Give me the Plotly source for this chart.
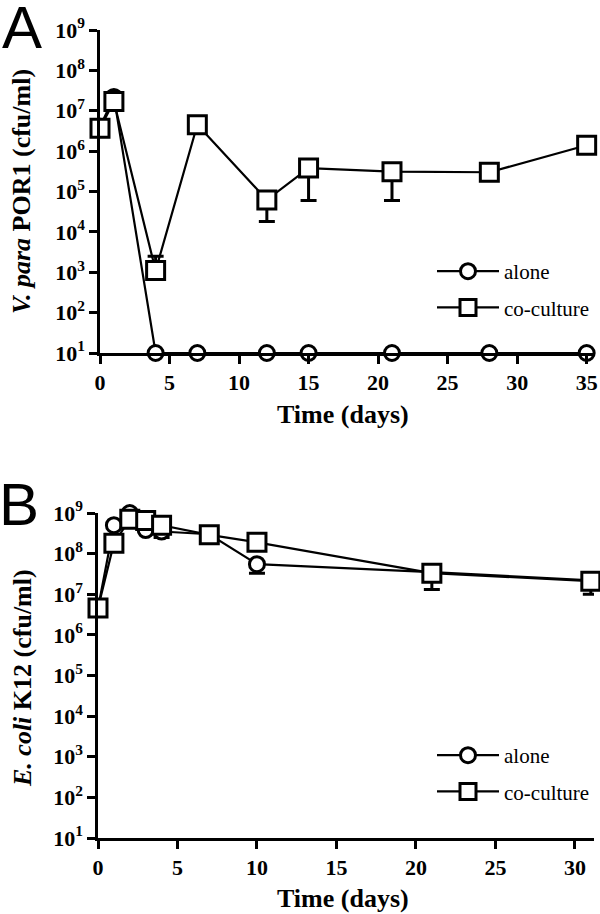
import plotly.graph_objects as go

# ---------------- data ----------------
A_days = [0, 1, 4, 7, 12, 15, 21, 28, 35]
A_alone = [4.0e6, 2.2e7, 10, 10, 10, 10, 10, 10, 10]
A_cocult = [3.7e6, 1.7e7, 1.1e3, 4.5e6, 6.2e4, 3.8e5, 3.1e5, 3.0e5, 1.4e6]
A_cocult_err_up = [0, 0, 1.4e3, 0, 0, 0, 0, 0, 0]
A_cocult_err_down = [0, 0, 0, 1.5e6, 4.4e4, 3.2e5, 2.5e5, 0, 0]

B_days = [0, 1, 2, 3, 4, 7, 10, 21, 31]
B_alone = [4.5e6, 5.0e8, 1.0e9, 3.8e8, 3.5e8, 3.0e8, 5.5e7, 3.5e7, 2.2e7]
B_alone_err_down = [0, 0, 0, 0, 1.0e8, 0, 2.2e7, 0, 0]
B_cocult = [4.6e6, 1.8e8, 7.0e8, 6.5e8, 5.0e8, 2.9e8, 1.9e8, 3.3e7, 2.1e7]
B_cocult_err_down = [0, 0, 0, 0, 0, 0, 0, 2.0e7, 1.1e7]

A_xticks = [0, 5, 10, 15, 20, 25, 30, 35]
B_xticks = [0, 5, 10, 15, 20, 25, 30]
y_exponents = [1, 2, 3, 4, 5, 6, 7, 8, 9]
y_tickvals = [10 ** e for e in y_exponents]
y_ticktext = ["10<sup>%d</sup>" % e for e in y_exponents]

series_names = ["alone", "co-culture"]

# ---------------- styling ----------------
W, H = 600, 914
SERIF = "Liberation Serif"
LINE_W = 2.2
MK_LINE = 3

def px_x(p):
    return p / W

def px_y(p):
    return 1 - p / H

circle_marker = dict(symbol="circle", size=15, color="white",
                     line=dict(color="black", width=MK_LINE))
square_marker = dict(symbol="square", size=18, color="white",
                     line=dict(color="black", width=MK_LINE))

fig = go.Figure()

def err(up, down):
    return dict(type="data", symmetric=False, array=up, arrayminus=down,
                color="black", thickness=3, width=8, visible=True)

zeros9 = [0] * 9

# Panel A
fig.add_trace(go.Scatter(x=A_days, y=A_alone, mode="lines+markers", name=series_names[0],
                         line=dict(color="black", width=LINE_W), marker=circle_marker,
                         xaxis="x", yaxis="y", legend="legend", legendgroup="a1",
                         cliponaxis=False))
fig.add_trace(go.Scatter(x=A_days, y=A_cocult, mode="lines+markers", name=series_names[1],
                         line=dict(color="black", width=LINE_W), marker=square_marker,
                         error_y=err(A_cocult_err_up, A_cocult_err_down),
                         xaxis="x", yaxis="y", legend="legend", legendgroup="a2",
                         cliponaxis=False))
# Panel B
fig.add_trace(go.Scatter(x=B_days, y=B_alone, mode="lines+markers", name=series_names[0],
                         line=dict(color="black", width=LINE_W), marker=circle_marker,
                         error_y=err(zeros9, B_alone_err_down),
                         xaxis="x2", yaxis="y2", legend="legend2", legendgroup="b1",
                         cliponaxis=False))
fig.add_trace(go.Scatter(x=B_days, y=B_cocult, mode="lines+markers", name=series_names[1],
                         line=dict(color="black", width=LINE_W), marker=square_marker,
                         error_y=err(zeros9, B_cocult_err_down),
                         xaxis="x2", yaxis="y2", legend="legend2", legendgroup="b2",
                         cliponaxis=False))

tickfont = dict(family=SERIF, size=22, color="black", weight="bold")
common_x = dict(showline=True, linecolor="black", linewidth=2.5, ticks="outside",
                ticklen=8, tickwidth=2.5, tickcolor="black", showgrid=False,
                zeroline=False, tickfont=tickfont, automargin=False)
common_y = dict(type="log", range=[1, 9], tickvals=y_tickvals, ticktext=y_ticktext,
                showline=True, linecolor="black", linewidth=2.5, ticks="outside",
                ticklen=8, tickwidth=2.5, tickcolor="black", showgrid=False,
                zeroline=False, tickfont=tickfont, automargin=False)

A_left, A_right, A_top, A_bot = 100, 595, 30, 353
B_left, B_right, B_top, B_bot = 98, 594, 513, 838

legend_style = dict(xanchor="left", yanchor="top", bgcolor="rgba(0,0,0,0)",
                    font=dict(family=SERIF, size=21, color="black"),
                    itemwidth=62, tracegroupgap=6, traceorder="grouped")

fig.update_layout(
    width=W, height=H, autosize=False,
    margin=dict(l=0, r=0, t=0, b=0, autoexpand=False),
    paper_bgcolor="white", plot_bgcolor="white",
    xaxis=dict(common_x, domain=[px_x(A_left), px_x(A_right)], range=[0, 35.6],
               tickvals=A_xticks, anchor="y"),
    yaxis=dict(common_y, domain=[px_y(A_bot), px_y(A_top)], anchor="x"),
    xaxis2=dict(common_x, domain=[px_x(B_left), px_x(B_right)], range=[0, 31.2],
                tickvals=B_xticks, anchor="y2"),
    yaxis2=dict(common_y, domain=[px_y(B_bot), px_y(B_top)], anchor="x2"),
    legend=dict(legend_style, x=px_x(432), y=px_y(251)),
    legend2=dict(legend_style, x=px_x(432), y=px_y(735)),
    showlegend=True,
)

title_font = dict(family=SERIF, size=26, color="black", weight="bold")
ann = [
    dict(text="A", x=px_x(22), y=px_y(27), font=dict(family="Liberation Sans", size=60, color="black")),
    dict(text="B", x=px_x(19), y=px_y(504), font=dict(family="Liberation Sans", size=60, color="black")),
    dict(text="<i>V. para</i> POR1 (cfu/ml)", x=px_x(22), y=px_y(192), textangle=-90, font=title_font),
    dict(text="<i>E. coli</i> K12 (cfu/ml)", x=px_x(22), y=px_y(678), textangle=-90, font=title_font),
    dict(text="Time (days)", x=px_x(343), y=px_y(414), font=title_font),
    dict(text="Time (days)", x=px_x(343), y=px_y(898), font=title_font),
]
for a in ann:
    a.update(xref="paper", yref="paper", showarrow=False, xanchor="center", yanchor="middle")
fig.update_layout(annotations=ann)

fig.write_html("out.html", config={"displayModeBar": False},
               post_script="document.body.style.margin='0px';document.body.style.overflow='hidden';")
